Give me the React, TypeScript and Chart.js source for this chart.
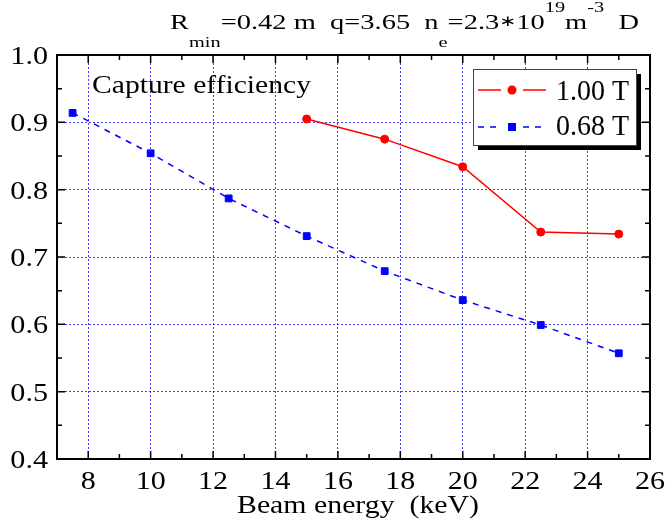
import React, { useEffect, useRef } from "react";
import { Chart, registerables } from "chart.js";

Chart.register(...registerables);

// ---- data ----
const seriesNames = ["1.00 T", "0.68 T"];
const energies1 = [15, 17.5, 20, 22.5, 25];
const eff1 = [0.905, 0.875, 0.834, 0.737, 0.734];
const energies2 = [7.5, 10, 12.5, 15, 17.5, 20, 22.5, 25];
const eff2 = [0.914, 0.854, 0.787, 0.731, 0.679, 0.636, 0.599, 0.557];
const xTickValues = [8, 10, 12, 14, 16, 18, 20, 22, 24, 26];
const yTickValues = [0.4, 0.5, 0.6, 0.7, 0.8, 0.9, 1.0];
const xTitle = "Beam energy  (keV)";
const innerLabel = "Capture efficiency";
const titleSegments: { t: string; k: "n" | "sub" | "sup" | "op" }[] = [
  { t: "R", k: "n" },
  { t: "min", k: "sub" },
  { t: "=0.42 m  q=3.65  n", k: "n" },
  { t: "e", k: "sub" },
  { t: "=2.3", k: "n" },
  { t: "\u2217", k: "op" },
  { t: "10", k: "n" },
  { t: "19", k: "sup" },
  { t: "m", k: "n" },
  { t: "-3", k: "sup" },
  { t: "  D", k: "n" },
];

const SERIF = '"Liberation Serif", "Times New Roman", serif';
const RED = "#ff0000";
const BLUE = "#0000ff";

function drawScaled(
  ctx: CanvasRenderingContext2D,
  text: string,
  x: number,
  y: number,
  font: string,
  sx: number,
  align: CanvasTextAlign
) {
  ctx.save();
  ctx.font = font;
  ctx.fillStyle = "#000";
  ctx.textAlign = align;
  ctx.textBaseline = "alphabetic";
  ctx.translate(x, y);
  ctx.scale(sx, 1);
  ctx.fillText(text, 0, 0);
  ctx.restore();
}

function drawFit(
  ctx: CanvasRenderingContext2D,
  text: string,
  x: number,
  y: number,
  font: string,
  targetW: number,
  align: CanvasTextAlign
) {
  ctx.save();
  ctx.font = font;
  const w = ctx.measureText(text).width;
  ctx.restore();
  drawScaled(ctx, text, x, y, font, targetW / w, align);
}

const segFont = (k: string) =>
  k === "n"
    ? `21px ${SERIF}`
    : k === "op"
    ? `15px "DejaVu Sans", sans-serif`
    : `15px ${SERIF}`;
const segBase = (k: string) => (k === "n" ? 29 : k === "sub" ? 47 : k === "sup" ? 12 : 26);

const decorPlugin = {
  id: "decor",
  afterDraw(chart: any) {
    const ctx: CanvasRenderingContext2D = chart.ctx;
    const { left, right, top, bottom } = chart.chartArea;
    const xs = chart.scales.x;
    const ys = chart.scales.y;

    // frame
    ctx.save();
    ctx.strokeStyle = "#000";
    ctx.lineWidth = 2;
    ctx.strokeRect(left, top, right - left, bottom - top);

    // inward ticks
    ctx.lineWidth = 1.5;
    ctx.beginPath();
    xs.ticks.forEach((t: any) => {
      const v = t.value;
      const px = xs.getPixelForValue(v);
      const major = Math.round(v) % 2 === 0;
      const len = major ? 8 : 5;
      ctx.moveTo(px, bottom);
      ctx.lineTo(px, bottom - len);
      ctx.moveTo(px, top);
      ctx.lineTo(px, top + len);
    });
    ys.ticks.forEach((t: any) => {
      const v = t.value;
      const py = ys.getPixelForValue(v);
      const major = Math.round(v * 100) % 10 === 0;
      const len = major ? 8 : 5;
      ctx.moveTo(left, py);
      ctx.lineTo(left + len, py);
      ctx.moveTo(right, py);
      ctx.lineTo(right - len, py);
    });
    ctx.stroke();
    ctx.restore();

    // tick labels
    xTickValues.forEach((v) => {
      drawScaled(ctx, String(v), xs.getPixelForValue(v), 489, `25px ${SERIF}`, 1.2, "center");
    });
    yTickValues.forEach((v) => {
      drawScaled(ctx, v.toFixed(1), 48, ys.getPixelForValue(v) + 9, `26px ${SERIF}`, 1.16, "right");
    });

    // axis title
    drawFit(ctx, xTitle, 358, 513, `25px ${SERIF}`, 242, "center");

    // inner label
    drawFit(ctx, innerLabel, 92, 93, `26px ${SERIF}`, 219, "left");

    // top title with sub/superscripts
    ctx.save();
    let natural = 0;
    const widths = titleSegments.map((s) => {
      ctx.font = segFont(s.k);
      const w = ctx.measureText(s.t).width;
      natural += w;
      return w;
    });
    ctx.restore();
    const tsx = 469 / natural;
    let cx = 170;
    titleSegments.forEach((s, i) => {
      drawScaled(ctx, s.t, cx, segBase(s.k), segFont(s.k), tsx, "left");
      cx += widths[i] * tsx;
    });

    // legend
    const bx = 473, by = 69, bw = 163, bh = 76;
    ctx.save();
    ctx.fillStyle = "#000";
    ctx.fillRect(bx + 5, by + 5, bw, bh);
    ctx.fillStyle = "#fff";
    ctx.fillRect(bx, by, bw, bh);
    ctx.strokeStyle = "#444";
    ctx.lineWidth = 1;
    ctx.strokeRect(bx + 0.5, by + 0.5, bw, bh);
    ctx.restore();

    chart.data.datasets.forEach((ds: any, i: number) => {
      const ry = 90 + i * 37;
      const mx = 512;
      ctx.save();
      ctx.strokeStyle = ds.borderColor;
      ctx.lineWidth = 1.5;
      ctx.setLineDash(ds.borderDash || []);
      ctx.beginPath();
      ctx.moveTo(478, ry);
      ctx.lineTo(501, ry);
      ctx.stroke();
      ctx.beginPath();
      ctx.moveTo(523, ry);
      ctx.lineTo(546, ry);
      ctx.stroke();
      ctx.setLineDash([]);
      ctx.fillStyle = ds.borderColor;
      if (ds.pointStyle === "rect") {
        ctx.fillRect(mx - 4, ry - 4, 8, 8);
      } else {
        ctx.beginPath();
        ctx.arc(mx, ry, 4.5, 0, Math.PI * 2);
        ctx.fill();
      }
      ctx.restore();
      drawFit(ctx, ds.label, 556, 100 + i * 35, `30px ${SERIF}`, 73, "left");
    });
  },
};

export default function App() {
  const ref = useRef<HTMLCanvasElement | null>(null);

  useEffect(() => {
    if (!ref.current) return;
    const gridColorX = (c: any) => {
      const v = c.tick ? c.tick.value : NaN;
      return Math.round(v) % 2 === 0 && v > 7 && v < 26 ? "rgba(30,30,255,0.85)" : "rgba(0,0,0,0)";
    };
    const gridColorY = (c: any) => {
      const v = c.tick ? c.tick.value : NaN;
      const k = Math.round(v * 100);
      return k % 10 === 0 && k > 40 && k < 100 ? "rgba(30,30,255,0.85)" : "rgba(0,0,0,0)";
    };
    const chart = new Chart(ref.current, {
      type: "line",
      data: {
        datasets: [
          {
            label: seriesNames[0],
            data: energies1.map((x, i) => ({ x, y: eff1[i] })),
            borderColor: RED,
            backgroundColor: RED,
            pointBackgroundColor: RED,
            pointBorderColor: RED,
            pointStyle: "circle",
            pointRadius: 4,
            pointBorderWidth: 1,
            borderWidth: 1.5,
            tension: 0,
          },
          {
            label: seriesNames[1],
            data: energies2.map((x, i) => ({ x, y: eff2[i] })),
            borderColor: BLUE,
            backgroundColor: BLUE,
            pointBackgroundColor: BLUE,
            pointBorderColor: BLUE,
            pointStyle: "rect",
            pointRadius: 4.8,
            pointBorderWidth: 1,
            borderWidth: 1.5,
            borderDash: [6, 6],
            tension: 0,
          },
        ],
      } as any,
      options: {
        animation: false,
        responsive: false,
        devicePixelRatio: 1,
        layout: { padding: { top: 55, right: 18, left: 0, bottom: 0 } },
        plugins: {
          legend: { display: false },
          title: { display: false },
          tooltip: { enabled: false },
        },
        scales: {
          x: {
            type: "linear",
            min: 7,
            max: 26,
            ticks: { stepSize: 1, display: false },
            grid: { color: gridColorX, lineWidth: 1, drawTicks: false },
            border: { display: false, dash: [2, 2] },
            afterFit: (s: any) => {
              s.height = 63;
            },
          },
          y: {
            type: "linear",
            min: 0.4,
            max: 1.0,
            ticks: { stepSize: 0.05, display: false },
            grid: { color: gridColorY, lineWidth: 1, drawTicks: false },
            border: { display: false, dash: [2, 2] },
            afterFit: (s: any) => {
              s.width = 57;
            },
          },
        },
      } as any,
      plugins: [decorPlugin],
    });
    return () => chart.destroy();
  }, []);

  return (
    <div
      style={{
        position: "fixed",
        left: 0,
        top: 0,
        width: 668,
        height: 522,
        background: "#fff",
      }}
    >
      <canvas ref={ref} width={668} height={522} style={{ width: 668, height: 522, display: "block" }} />
    </div>
  );
}
